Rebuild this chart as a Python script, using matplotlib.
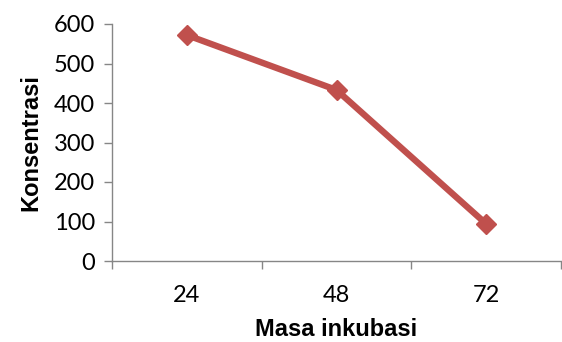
import matplotlib
matplotlib.use("Agg")
import matplotlib.pyplot as plt

categories = ["24", "48", "72"]
values = [572, 433, 94]
y_ticks = [0, 100, 200, 300, 400, 500, 600]

fig = plt.figure(figsize=(5.62, 3.42), dpi=100)
ax = fig.add_axes([112/562, 1-261/342, (561-112)/562, (261-24)/342])

x = list(range(len(categories)))
ax.plot(x, values, color="#C0504D", linewidth=4.6, marker="D", markersize=10,
        markeredgecolor="#C0504D", markerfacecolor="#C0504D", solid_capstyle="butt")

ax.set_xlim(-0.5, len(categories) - 0.5)
ax.set_ylim(0, 600)
ax.set_yticks(y_ticks)
ax.set_xticks(x)
ax.set_xticklabels(categories)
ax.set_xticks([i - 0.5 for i in range(len(categories) + 1)], minor=True)

for s in ["top", "right"]:
    ax.spines[s].set_visible(False)
for s in ["left", "bottom"]:
    ax.spines[s].set_color("#868686")
    ax.spines[s].set_linewidth(1)

ax.tick_params(axis="y", which="major", length=5.8, width=1, color="#868686",
               labelsize=17, pad=6.5)
ax.tick_params(axis="x", which="major", length=0, labelsize=17, pad=17)
ax.tick_params(axis="x", which="minor", length=5.8, width=1, color="#868686")
for lab in ax.get_xticklabels() + ax.get_yticklabels():
    lab.set_fontfamily("Lato")

ax.set_xlabel("Masa inkubasi", fontsize=17, fontweight="bold",
              fontfamily="Liberation Sans", labelpad=9)
ax.set_ylabel("Konsentrasi", fontsize=17, fontweight="bold",
              fontfamily="Liberation Sans", labelpad=8)

fig.savefig("out.png", dpi=100)
